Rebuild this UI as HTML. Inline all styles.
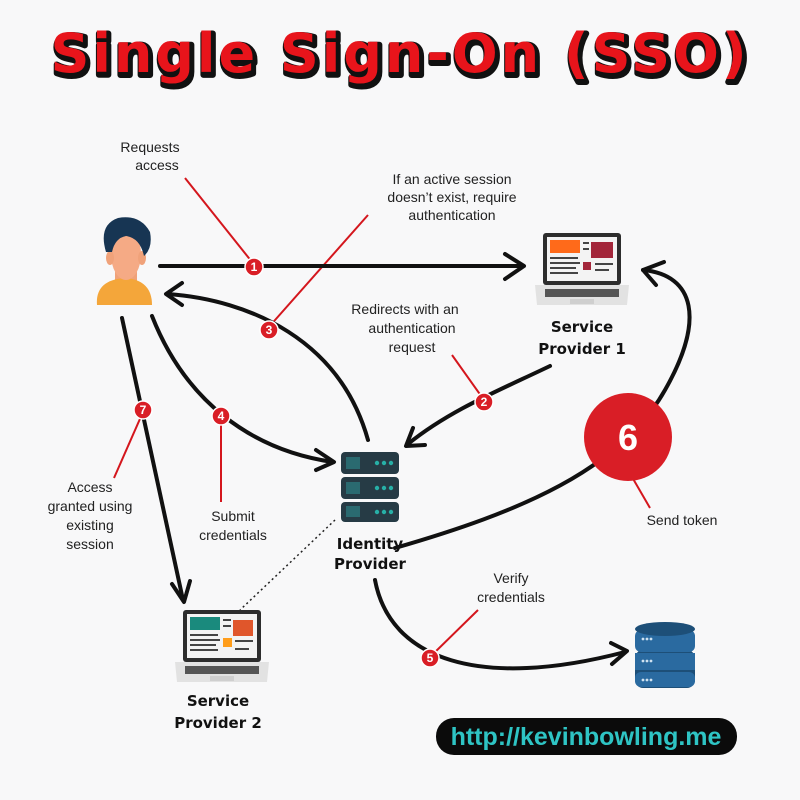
<!DOCTYPE html>
<html><head><meta charset="utf-8"><style>
html,body{margin:0;padding:0;background:#f8f8f9;}
svg{display:block;}
.t{font-family:"Liberation Sans","DejaVu Sans",sans-serif;font-size:14px;fill:#222;text-anchor:middle;}
.b{font-family:"DejaVu Sans","Liberation Sans",sans-serif;font-size:15px;font-weight:bold;fill:#111;text-anchor:middle;}
.n{font-family:"Liberation Sans",sans-serif;font-size:12px;font-weight:bold;fill:#fff;text-anchor:middle;}
</style></head><body>
<svg width="800" height="800" viewBox="0 0 800 800" xmlns="http://www.w3.org/2000/svg">
<rect width="800" height="800" fill="#f8f8f9"/>
<!-- title -->
<text x="402" y="75" text-anchor="middle" font-family="DejaVu Sans,Liberation Sans,sans-serif" font-weight="bold" font-size="54" letter-spacing="3" fill="#111" stroke="#111" stroke-width="6" stroke-linejoin="round">Single Sign-On (SSO)</text>
<text x="400" y="72" text-anchor="middle" font-family="DejaVu Sans,Liberation Sans,sans-serif" font-weight="bold" font-size="54" letter-spacing="3" fill="#e8141b">Single Sign-On (SSO)</text>

<!-- red leader lines -->
<g stroke="#d4161d" stroke-width="2" fill="none">
<line x1="185" y1="178" x2="252" y2="262"/>
<line x1="368" y1="215" x2="268" y2="328"/>
<line x1="452" y1="355" x2="484" y2="400"/>
<line x1="143" y1="412" x2="114" y2="478"/>
<line x1="221" y1="418" x2="221" y2="502"/>
<line x1="430" y1="657" x2="478" y2="610"/>
<line x1="628" y1="470" x2="650" y2="508"/>
</g>

<!-- black arrows -->
<g stroke="#111" stroke-width="4" fill="none" stroke-linecap="round" stroke-linejoin="round">
<line x1="160" y1="266" x2="522" y2="266"/>
<polyline points="505,254 524,266 505,279"/>
<path d="M368,440 C340,340 250,300 168,294"/>
<polyline points="182,283 166,294 182,305"/>
<path d="M550,366 C500,390 450,410 408,444"/>
<polyline points="413,428 406,446 425,445"/>
<path d="M152,316 C185,400 250,450 333,462"/>
<polyline points="316,450 334,462 316,470"/>
<path d="M122,318 L183,600"/>
<polyline points="172,584 184,602 190,581"/>
<path d="M395,548 C520,512 620,470 665,390 C705,320 695,275 643,270"/>
<polyline points="664,262 643,270 656,285"/>
<path d="M375,580 C390,660 480,690 625,652"/>
<polyline points="611,643 627,651 612,664"/>
</g>
<line x1="335" y1="520" x2="240" y2="610" stroke="#222" stroke-width="1.5" stroke-dasharray="2,3"/>

<!-- badges -->
<g>
<circle cx="254" cy="267" r="9" fill="#d91e26" stroke="#fff" stroke-width="1.5"/><text class="n" x="254" y="271">1</text>
<circle cx="484" cy="402" r="9" fill="#d91e26" stroke="#fff" stroke-width="1.5"/><text class="n" x="484" y="406">2</text>
<circle cx="269" cy="330" r="9" fill="#d91e26" stroke="#fff" stroke-width="1.5"/><text class="n" x="269" y="334">3</text>
<circle cx="221" cy="416" r="9" fill="#d91e26" stroke="#fff" stroke-width="1.5"/><text class="n" x="221" y="420">4</text>
<circle cx="430" cy="658" r="9" fill="#d91e26" stroke="#fff" stroke-width="1.5"/><text class="n" x="430" y="662">5</text>
<circle cx="143" cy="410" r="9" fill="#d91e26" stroke="#fff" stroke-width="1.5"/><text class="n" x="143" y="414">7</text>
<circle cx="628" cy="437" r="44" fill="#d91e26"/>
<text x="628" y="450" text-anchor="middle" font-family="Liberation Sans,sans-serif" font-weight="bold" font-size="36" fill="#fff">6</text>
</g>

<!-- labels -->
<text class="t" x="150" y="152">Requests</text><text class="t" x="157" y="170">access</text>
<text class="t" x="452" y="184">If an active session</text>
<text class="t" x="452" y="202">doesn’t exist, require</text>
<text class="t" x="452" y="220">authentication</text>
<text class="t" x="405" y="314">Redirects with an</text>
<text class="t" x="412" y="333">authentication</text>
<text class="t" x="412" y="352">request</text>
<text class="t" x="90" y="492">Access</text><text class="t" x="90" y="511">granted using</text>
<text class="t" x="90" y="530">existing</text><text class="t" x="90" y="549">session</text>
<text class="t" x="233" y="521">Submit</text><text class="t" x="233" y="540">credentials</text>
<text class="t" x="511" y="583">Verify</text><text class="t" x="511" y="602">credentials</text>
<text class="t" x="682" y="525">Send token</text>
<text class="b" x="582" y="332">Service</text><text class="b" x="582" y="354">Provider 1</text>
<text class="b" x="370" y="549">Identity</text><text class="b" x="370" y="569">Provider</text>
<text class="b" x="218" y="706">Service</text><text class="b" x="218" y="728">Provider 2</text>

<!-- person -->
<rect x="115" y="268" width="22" height="20" fill="#f0a27a"/>
<path d="M97,305 Q95,280 125,278 Q152,280 152,305 Z" fill="#f4a63a"/>
<ellipse cx="126" cy="254" rx="15" ry="26" fill="#f5aa85"/>
<ellipse cx="110" cy="258" rx="4" ry="7" fill="#f0a27a"/><ellipse cx="142" cy="258" rx="4" ry="7" fill="#f0a27a"/>
<path d="M106,252 Q98,225 118,218 Q140,214 150,232 Q153,248 144,256 Q140,238 126,236 Q115,238 112,252 Z" fill="#173553"/>

<!-- laptop SP1 -->
<g transform="translate(535,233)">
<rect x="8" y="0" width="78" height="52" rx="3" fill="#2d2d2d"/>
<rect x="12" y="4" width="70" height="44" fill="#f3f3f3"/>
<rect x="15" y="7" width="30" height="13" fill="#ff6a1a"/>
<rect x="56" y="9" width="22" height="16" fill="#a3263a"/>
<rect x="48" y="29" width="8" height="8" fill="#a3263a"/>
<g fill="#444"><rect x="15" y="24" width="28" height="2"/><rect x="15" y="29" width="30" height="2"/><rect x="15" y="34" width="26" height="2"/><rect x="15" y="39" width="28" height="2"/><rect x="48" y="9" width="6" height="2"/><rect x="48" y="15" width="6" height="2"/><rect x="60" y="30" width="18" height="2"/><rect x="60" y="36" width="14" height="2"/></g>
<path d="M0,52 L94,52 L92,72 L2,72 Z" fill="#e2e2e2"/>
<rect x="10" y="56" width="74" height="8" fill="#555"/>
<rect x="35" y="66" width="24" height="5" fill="#cfcfcf"/>
</g>
<!-- laptop SP2 -->
<g transform="translate(175,610)">
<rect x="8" y="0" width="78" height="52" rx="3" fill="#2d2d2d"/>
<rect x="12" y="4" width="70" height="44" fill="#f3f3f3"/>
<rect x="15" y="7" width="30" height="13" fill="#1a8a7d"/>
<rect x="58" y="10" width="20" height="16" fill="#e0562b"/>
<rect x="48" y="28" width="9" height="9" fill="#ff9d1a"/>
<g fill="#444"><rect x="15" y="24" width="28" height="2"/><rect x="15" y="29" width="30" height="2"/><rect x="15" y="34" width="26" height="2"/><rect x="15" y="39" width="28" height="2"/><rect x="48" y="9" width="8" height="2"/><rect x="48" y="15" width="8" height="2"/><rect x="60" y="30" width="18" height="2"/><rect x="60" y="38" width="14" height="2"/></g>
<path d="M0,52 L94,52 L92,72 L2,72 Z" fill="#e2e2e2"/>
<rect x="10" y="56" width="74" height="8" fill="#555"/>
<rect x="35" y="66" width="24" height="5" fill="#cfcfcf"/>
</g>
<!-- server IDP -->
<g>
<rect x="341" y="452" width="58" height="22" rx="4" fill="#263b45"/>
<rect x="341" y="477" width="58" height="22" rx="4" fill="#263b45"/>
<rect x="341" y="502" width="58" height="20" rx="4" fill="#263b45"/>
<g fill="#27b0a7"><circle cx="377" cy="463" r="2.2"/><circle cx="384" cy="463" r="2.2"/><circle cx="391" cy="463" r="2.2"/>
<circle cx="377" cy="488" r="2.2"/><circle cx="384" cy="488" r="2.2"/><circle cx="391" cy="488" r="2.2"/>
<circle cx="377" cy="512" r="2.2"/><circle cx="384" cy="512" r="2.2"/><circle cx="391" cy="512" r="2.2"/></g>
<g fill="#2a6a70"><rect x="346" y="457" width="14" height="12"/><rect x="346" y="482" width="14" height="12"/><rect x="346" y="506" width="14" height="11"/></g>
</g>
<!-- database -->
<g>
<rect x="635" y="650" width="60" height="38" rx="8" fill="#1d4f78"/>
<rect x="635" y="630" width="60" height="22" rx="6" fill="#2a6aa0"/>
<rect x="635" y="653" width="60" height="17" fill="#2a6aa0"/>
<rect x="635" y="672" width="60" height="15" rx="6" fill="#2a6aa0"/>
<ellipse cx="665" cy="629" rx="30" ry="7" fill="#1d4f78"/>
<g fill="#cfe2f1"><circle cx="643" cy="639" r="1.4"/><circle cx="647" cy="639" r="1.4"/><circle cx="651" cy="639" r="1.4"/>
<circle cx="643" cy="661" r="1.4"/><circle cx="647" cy="661" r="1.4"/><circle cx="651" cy="661" r="1.4"/>
<circle cx="643" cy="680" r="1.4"/><circle cx="647" cy="680" r="1.4"/><circle cx="651" cy="680" r="1.4"/></g>
</g>
<!-- url pill -->
<rect x="436" y="718" width="301" height="37" rx="18" fill="#0b0b0b"/>
<text x="586" y="745" text-anchor="middle" font-family="Liberation Sans,sans-serif" font-weight="bold" font-size="25" fill="#2ec4c4">http://kevinbowling.me</text>
</svg>
</body></html>
